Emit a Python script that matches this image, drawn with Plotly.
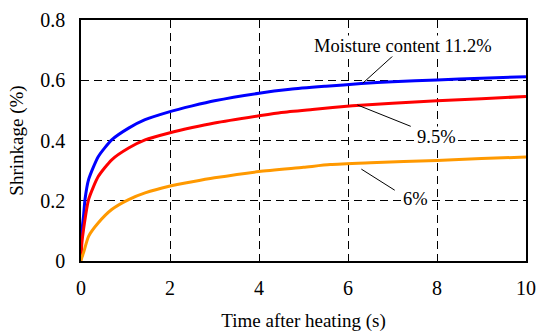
import plotly.graph_objects as go

# Time after heating (s)
t_blue = [0, 0.02, 0.056, 0.09, 0.17, 0.39, 0.69, 1.07, 1.44, 2.0, 2.5, 3.0, 4.0, 4.7, 5.5, 6.3, 7.0, 8.0, 9.0, 10.0]
v_blue = [0.02, 0.10, 0.148, 0.204, 0.27, 0.347, 0.402, 0.441, 0.469, 0.496, 0.515, 0.532, 0.557, 0.570, 0.580, 0.589, 0.595, 0.601, 0.607, 0.612]

t_red = [0, 0.02, 0.056, 0.17, 0.39, 0.69, 1.07, 1.44, 1.98, 2.5, 3.0, 4.0, 4.5, 5.2, 6.1, 7.0, 8.0, 9.0, 10.0]
v_red = [0.01, 0.06, 0.104, 0.204, 0.281, 0.336, 0.375, 0.402, 0.425, 0.443, 0.458, 0.482, 0.493, 0.503, 0.515, 0.524, 0.532, 0.539, 0.546]

t_orange = [0, 0.02, 0.056, 0.17, 0.39, 0.69, 1.07, 1.44, 1.98, 2.5, 3.0, 4.0, 5.0, 5.6, 6.5, 8.0, 9.0, 10.0]
v_orange = [0.0, 0.012, 0.027, 0.082, 0.127, 0.171, 0.204, 0.226, 0.248, 0.263, 0.276, 0.297, 0.311, 0.320, 0.326, 0.334, 0.340, 0.345]

series = [
    ("11.2%", t_blue, v_blue, "#0000ff"),
    ("9.5%", t_red, v_red, "#ff0000"),
    ("6%", t_orange, v_orange, "#ff9900"),
]

# annotation labels: (text, text_x, text_y, line_x0, line_y0, line_x1, line_y1)
labels = [
    ("Moisture content 11.2%", 7.23, 0.714, 7.01, 0.681, 6.33, 0.590),
    ("9.5%", 7.99, 0.413, 6.21, 0.518, 7.41, 0.447),
    ("6%", 7.52, 0.207, 6.30, 0.305, 7.05, 0.235),
]

FONT = "Liberation Serif"

fig = go.Figure()
for name, t, v, c in series:
    fig.add_trace(go.Scatter(x=t, y=v, mode="lines", name=name,
                             line=dict(color=c, width=3, shape="spline", smoothing=0.6),
                             showlegend=False))

for text, tx, ty, x0, y0, x1, y1 in labels:
    fig.add_annotation(x=tx, y=ty, text=text, showarrow=False,
                       font=dict(family=FONT, size=18.5, color="black"),
                       bgcolor="white", borderpad=0,
                       xanchor="center", yanchor="middle")
    fig.add_shape(type="line", x0=x0, y0=y0, x1=x1, y1=y1,
                  line=dict(color="black", width=1))

axis_common = dict(showline=True, linecolor="black", linewidth=1.5, mirror=True,
                   showgrid=True, gridcolor="black", gridwidth=1, griddash="8px,5px",
                   zeroline=False, ticks="", automargin=False)

fig.update_xaxes(range=[0, 10], dtick=2, tick0=0,
                 tickfont=dict(family=FONT, size=20, color="black"),
                 ticklabelstandoff=8,
                 title=dict(text="Time after heating (s)", font=dict(family=FONT, size=19, color="black"),
                            standoff=18),
                 **axis_common)
fig.update_yaxes(range=[0, 0.8], dtick=0.2, tick0=0,
                 tickfont=dict(family=FONT, size=20, color="black"),
                 ticklabelstandoff=10,
                 title=dict(text="Shrinkage (%)", font=dict(family=FONT, size=19, color="black"),
                            standoff=12),
                 **axis_common)

fig.update_layout(width=537, height=332, margin=dict(l=80.5, r=10.5, t=19.5, b=70.5),
                  plot_bgcolor="white", paper_bgcolor="white",
                  font=dict(family=FONT))

fig.write_html("out.html")
